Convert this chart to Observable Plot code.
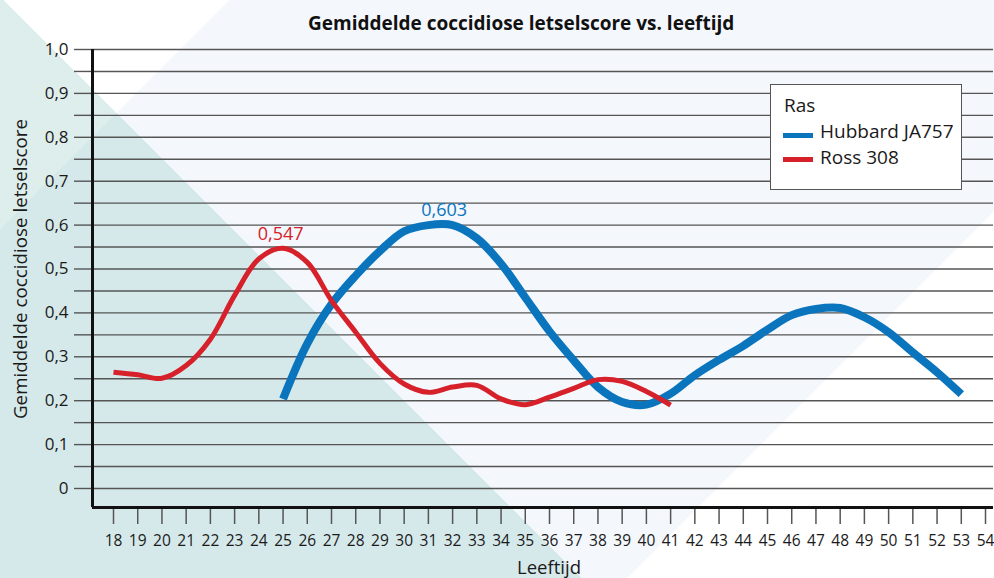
<!DOCTYPE html>
<html>
<head>
<meta charset="utf-8">
<script src="https://cdn.jsdelivr.net/npm/d3@7"></script>
<script src="https://cdn.jsdelivr.net/npm/@observablehq/plot@0.6"></script>
<style>
  html, body { margin: 0; padding: 0; background: #fff; }
  #page {
    position: relative; width: 994px; height: 578px; overflow: hidden;
    font-family: "Open Sans", sans-serif; color: #1a1a1a;
    background:
      linear-gradient(45deg, rgba(144,198,190,0.3) 37%, rgba(144,198,190,0) 37%),
      linear-gradient(135deg, #ffffff 14.6%, #f4f8fd 14.6%, #f4f8fd 76.7%, #ffffff 76.7%);
  }
  #header { position: relative; width: 994px; height: 40px; }
  #title {
    position: absolute; left: 308px; top: 9.6px; white-space: nowrap;
    font-weight: 700; font-size: 19px; line-height: 26px; color: #111;
  }
  #chart { position: absolute; left: 0; top: 40px; }
  #chart svg { background: transparent; overflow: visible; }
  #legend {
    position: absolute; left: 770px; top: 84px; width: 192px; height: 106px;
    box-sizing: border-box; border: 1px solid #555; background: #fff;
  }
  #legend .t { position: absolute; left: 13px; top: 6.6px; font-size: 19px; line-height: 26px; white-space: nowrap; }
  #legend .sw { position: absolute; left: 12px; width: 30px; height: 5px; }
  #legend .lab { position: absolute; left: 49px; font-size: 19px; line-height: 26px; white-space: nowrap; }
</style>
</head>
<body>
<div id="page">
  <div id="header"><div id="title"></div></div>
  <div id="chart"></div>
  <div id="legend"></div>
</div>
<script>
// ---- Text ----
const titleText = "Gemiddelde coccidiose letselscore vs. leeftijd";
const xLabel = "Leeftijd";
const yLabel = "Gemiddelde coccidiose letselscore";
const legendTitle = "Ras";

// ---- Series ----
const seriesNames = ["Hubbard JA757", "Ross 308"];
const seriesColors = ["#0a74bd", "#d6202a"];

// Hubbard JA757 (ages 25..53)
const hubbardAges = [25, 26, 27, 28, 29, 30, 31, 32, 33, 34, 35, 36, 37, 38, 39, 40, 41, 42, 43, 44, 45, 46, 47, 48, 49, 50, 51, 52, 53];
const hubbardScores = [0.204, 0.33, 0.42, 0.485, 0.541, 0.586, 0.60, 0.60, 0.57, 0.512, 0.435, 0.358, 0.292, 0.231, 0.197, 0.191, 0.216, 0.258, 0.293, 0.325, 0.362, 0.395, 0.409, 0.411, 0.39, 0.356, 0.31, 0.265, 0.215];

// Ross 308 (ages 18..41)
const rossAges = [18, 19, 20, 21, 22, 23, 24, 25, 26, 27, 28, 29, 30, 31, 32, 33, 34, 35, 36, 37, 38, 39, 40, 41];
const rossScores = [0.265, 0.259, 0.251, 0.28, 0.34, 0.44, 0.523, 0.547, 0.515, 0.428, 0.356, 0.285, 0.238, 0.219, 0.231, 0.235, 0.204, 0.191, 0.208, 0.228, 0.248, 0.244, 0.221, 0.19];

// Peak annotations
const peakSeries = ["Ross 308", "Hubbard JA757"];
const peakAges = [24.9, 31.65];
const peakScores = [0.547, 0.603];
const peakLabels = ["0,547", "0,603"];

// ---- Ticks ----
const xTicks = [18, 19, 20, 21, 22, 23, 24, 25, 26, 27, 28, 29, 30, 31, 32, 33, 34, 35, 36, 37, 38, 39, 40, 41, 42, 43, 44, 45, 46, 47, 48, 49, 50, 51, 52, 53, 54];
const yTicks = [0, 0.05, 0.1, 0.15, 0.2, 0.25, 0.3, 0.35, 0.4, 0.45, 0.5, 0.55, 0.6, 0.65, 0.7, 0.75, 0.8, 0.85, 0.9, 0.95, 1.0];
const yTickLabels = ["0", "", "0,1", "", "0,2", "", "0,3", "", "0,4", "", "0,5", "", "0,6", "", "0,7", "", "0,8", "", "0,9", "", "1,0"];

const xDomain = [17.133, 54.33];
const yDomain = [-0.0433, 1.0];

// ---- Build tables ----
const lines = [
  ...hubbardAges.map((a, i) => ({series: seriesNames[0], age: a, score: hubbardScores[i]})),
  ...rossAges.map((a, i) => ({series: seriesNames[1], age: a, score: rossScores[i]}))
];
const peaks = peakAges.map((a, i) => ({series: peakSeries[i], age: a, score: peakScores[i], label: peakLabels[i]}));
const widths = {"Hubbard JA757": 8, "Ross 308": 5};

document.getElementById("title").textContent = titleText;

const chart = Plot.plot({
  width: 994,
  height: 538,
  marginLeft: 92,
  marginRight: 1,
  marginTop: 9,
  marginBottom: 71,
  style: {background: "transparent", fontFamily: "'Open Sans', sans-serif", overflow: "visible"},
  x: {domain: xDomain, axis: null},
  y: {domain: yDomain, axis: null},
  color: {domain: seriesNames, range: seriesColors},
  marks: [
    Plot.gridY({ticks: yTicks, stroke: "#555", strokeOpacity: 1, strokeWidth: 1.4}),
    Plot.axisY({ticks: yTicks, tickSize: 18, tickPadding: 6, stroke: "#555", strokeWidth: 1.4,
      tickFormat: d => yTickLabels[yTicks.indexOf(d)], fontSize: 17, fill: "#1a1a1a", label: null}),
    Plot.axisX({ticks: xTicks, tickSize: 17, tickPadding: 10, stroke: "#555", strokeWidth: 1.5,
      tickFormat: d => String(d), fontSize: 15.5, fill: "#1a1a1a", label: null}),
    Plot.ruleX([xDomain[0]], {stroke: "#111", strokeWidth: 3}),
    Plot.ruleY([yDomain[0]], {stroke: "#111", strokeWidth: 3}),
    Plot.line(lines.filter(d => d.series === seriesNames[0]), {x: "age", y: "score", stroke: "series",
      strokeWidth: widths[seriesNames[0]], curve: "catmull-rom", strokeLinecap: "butt"}),
    Plot.line(lines.filter(d => d.series === seriesNames[1]), {x: "age", y: "score", stroke: "series",
      strokeWidth: widths[seriesNames[1]], curve: "catmull-rom", strokeLinecap: "butt"}),
    Plot.text(peaks, {x: "age", y: "score", text: "label", fill: "series", dy: -8, lineAnchor: "bottom", fontSize: 18}),
    Plot.text([yLabel], {frameAnchor: "left", textAnchor: "middle", rotate: -90, dx: -72, dy: -9.5, fontSize: 18.8, fill: "#1a1a1a"}),
    Plot.text([xLabel], {frameAnchor: "bottom", textAnchor: "middle", lineAnchor: "top", dy: 53, dx: 6, fontSize: 18.5, fill: "#1a1a1a"})
  ]
});
document.getElementById("chart").appendChild(chart);

// ---- Legend ----
const legend = document.getElementById("legend");
const lt = document.createElement("div");
lt.className = "t";
lt.textContent = legendTitle;
legend.appendChild(lt);
seriesNames.forEach((name, i) => {
  const sw = document.createElement("div");
  sw.className = "sw";
  sw.style.background = seriesColors[i];
  sw.style.top = (47.6 + i * 24) + "px";
  legend.appendChild(sw);
  const lab = document.createElement("div");
  lab.className = "lab";
  lab.style.top = (32.6 + i * 26) + "px";
  lab.textContent = name;
  legend.appendChild(lab);
});
</script>
</body>
</html>
